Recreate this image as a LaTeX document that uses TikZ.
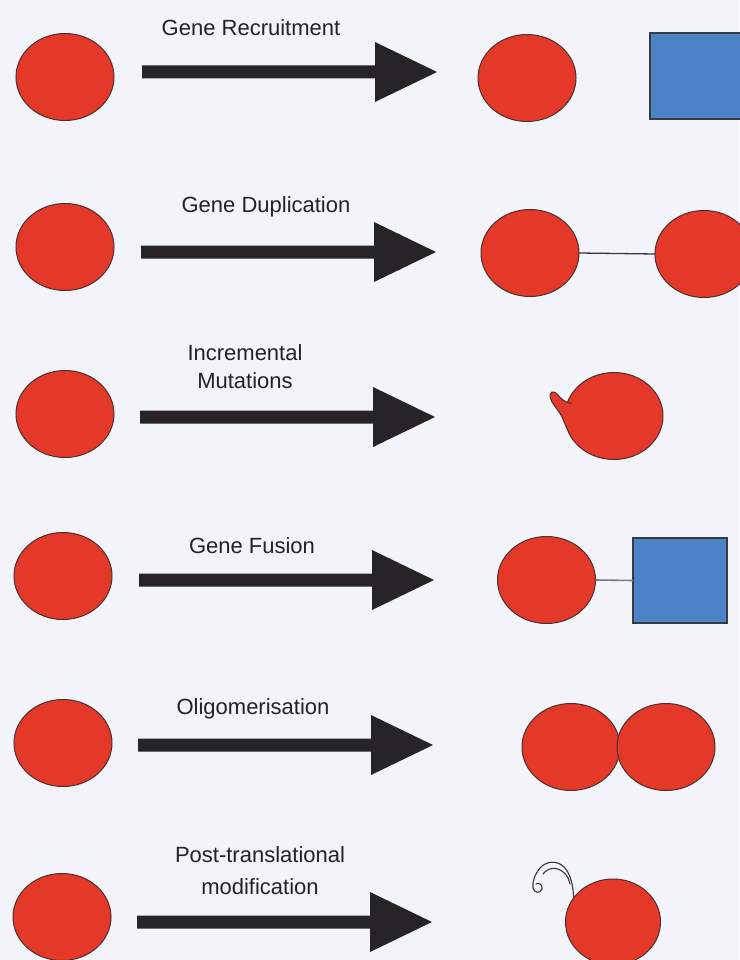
\documentclass[tikz,border=0pt]{standalone}
\usepackage{fontspec}
\setmainfont{Liberation Sans}
\usetikzlibrary{shapes.geometric}
\definecolor{pagebg}{RGB}{243,243,250}
\definecolor{protred}{RGB}{228,57,40}
\definecolor{protedge}{RGB}{75,48,48}
\definecolor{domblue}{RGB}{76,130,198}
\definecolor{domedge}{RGB}{58,58,68}
\definecolor{arrowdark}{RGB}{38,36,38}
\definecolor{linkdark}{RGB}{55,55,60}
\definecolor{linkgray}{RGB}{120,120,128}
\definecolor{labeltext}{RGB}{35,35,35}
\begin{document}
\begin{tikzpicture}[x=1pt,y=-1pt,
  protein/.style={ellipse, draw=protedge, fill=protred, line width=1pt,
    minimum width=98pt, minimum height=87pt, inner sep=0pt, outer sep=0pt},
  bluebox/.style={rectangle, draw=domedge, fill=domblue, line width=1.2pt,
    inner sep=0pt, outer sep=0pt},
  steplabel/.style={font=\fontsize{22}{26}\selectfont, text=labeltext,
    anchor=base, inner sep=0pt},
  linker/.style={draw=linkdark, line width=1.3pt},
  squig/.style={draw=linkdark, line width=1.1pt, line cap=round},
  blockarrow/.pic={
    \fill[arrowdark] (0,-6.5) -- (233,-6.5) -- (233,-30) -- (295,0)
      -- (233,30) -- (233,6.5) -- (0,6.5) -- cycle;}]

% page
\fill[pagebg] (0,0) rectangle (739,960);
\useasboundingbox (0,0) rectangle (739,960);

% ---- Gene recruitment
\node[protein] (recA) at (65,77) {};
\pic at (142,72) {blockarrow};
\node[steplabel] (lRec) at (251,36) {Gene Recruitment};
\node[protein] (recB) at (527,78) {};
\node[bluebox, minimum width=92pt, minimum height=86pt] (recC) at (696,76) {};

% ---- Gene duplication
\node[protein] (dupA) at (65,247) {};
\pic at (141,252) {blockarrow};
\node[steplabel] (lDup) at (266,212) {Gene Duplication};
\node[protein] (dupB) at (530,253) {};
\node[protein] (dupC) at (704,254) {};
\draw[linker] (dupB.east) -- (dupC.west);

% ---- Incremental mutations
\node[protein] (mutA) at (65,414) {};
\pic at (140,417) {blockarrow};
\node[steplabel] (lMutA) at (245,360) {Incremental};
\node[steplabel] (lMutB) at (245,388) {Mutations};
\node[protein] (mutB) at (614,416) {};
% small protrusion grown on the mutated protein
\fill[protred] (571.5,403.5) .. controls (566,403) and (561,399) .. (557,394)
  .. controls (554,390) and (549,392) .. (550,397)
  .. controls (551,403) and (558,409) .. (562,417)
  .. controls (564,422) and (566,426) .. (567.5,429.5)
  -- (590,416) -- cycle;
\draw[protedge, line width=1pt] (571.5,403.5) .. controls (566,403) and (561,399) .. (557,394)
  .. controls (554,390) and (549,392) .. (550,397)
  .. controls (551,403) and (558,409) .. (562,417)
  .. controls (564,422) and (566,426) .. (567.5,429.5);

% ---- Gene fusion
\node[protein] (fusA) at (63,576) {};
\pic at (139,580) {blockarrow};
\node[steplabel] (lFus) at (252,553) {Gene Fusion};
\node[protein] (fusB) at (546.5,580) {};
\node[bluebox, minimum width=94pt, minimum height=85pt] (fusC) at (680,580.5) {};
\draw[draw=linkgray, line width=1.6pt] (fusB.east) -- (fusC.west);

% ---- Oligomerisation
\node[protein] (oliA) at (63,743) {};
\pic at (138,745) {blockarrow};
\node[steplabel] (lOli) at (253,714) {Oligomerisation};
\node[protein] (oliB) at (571,747) {};
\node[protein] (oliC) at (666,747) {};

% ---- Post-translational modification
\node[protein] (ptmA) at (62,917) {};
\pic at (137,922) {blockarrow};
\node[steplabel] (lPtmA) at (260,862) {Post-translational};
\node[steplabel] (lPtmB) at (260,894) {modification};
% attached group drawn as a hand-drawn curl
\draw[squig] (574,900) .. controls (573,886) and (571,874) .. (564,867)
  .. controls (557,860) and (546,861) .. (540,868)
  .. controls (535,874) and (532,882) .. (533,888)
  .. controls (534,893) and (540,894) .. (542,889)
  .. controls (543,885) and (539,882) .. (536,884);
\draw[squig] (570,884) .. controls (568,875) and (563,870) .. (556,868.5)
  .. controls (551,867.5) and (546,870) .. (543,874);
\node[protein, minimum width=95pt, minimum height=86pt] (ptmB) at (613,922) {};

\end{tikzpicture}
\end{document}
